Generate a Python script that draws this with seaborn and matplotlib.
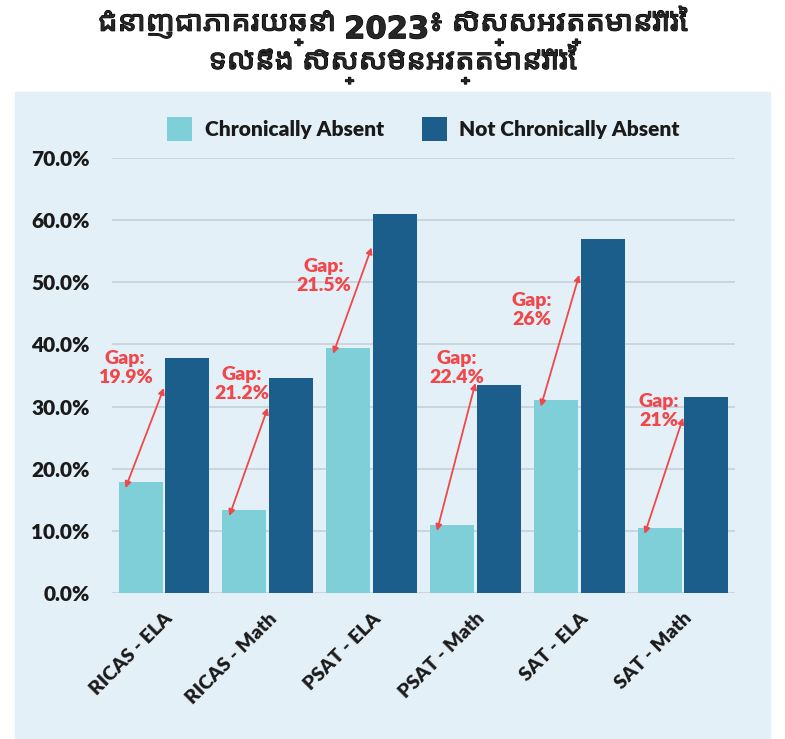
import numpy as np
import pandas as pd
import matplotlib
matplotlib.use("Agg")
import matplotlib.pyplot as plt
import matplotlib.patheffects as pe
from matplotlib import font_manager
from matplotlib.ft2font import FT2Font
from matplotlib.patches import Rectangle
import seaborn as sns

# values
tests = ["RICAS - ELA", "RICAS - Math", "PSAT - ELA", "PSAT - Math", "SAT - ELA", "SAT - Math"]
chronic = [17.9, 13.4, 39.5, 11.0, 31.0, 10.5]
not_chronic = [37.8, 34.6, 61.0, 33.4, 57.0, 31.5]
gap_labels = ["19.9%", "21.2%", "21.5%", "22.4%", "26%", "21%"]
groups = ["Chronically Absent", "Not Chronically Absent"]
title = ("ជំនាញជាភាគរយឆ្នាំ 2023៖ សិស្សអវត្តមានរ៉ាំរ៉ៃ\n"
         "ទល់នឹង សិស្សមិនអវត្តមានរ៉ាំរ៉ៃ")

# annotation placement (hand drawn in the original)
arrow_top = [33.0, 29.8, 55.6, 33.8, 51.2, 28.2]
label_dx = [-0.375, -0.25, -0.46, -0.18, -0.46, -0.23]
label_y = [36.2, 33.6, 51.0, 36.2, 45.6, 29.3]

light = "#7ECFD8"
dark = "#1B5E8C"
red = "#F0474B"
panel = "#E4F0F8"

df = pd.DataFrame({
    "test": tests * 2,
    "value": chronic + not_chronic,
    "group": [groups[0]] * len(tests) + [groups[1]] * len(tests),
})

# find fonts that have Khmer glyphs, prefer Noto
khmer_fonts = []
for f in font_manager.fontManager.ttflist:
    try:
        if ord("ជ") in FT2Font(f.fname).get_charmap():
            khmer_fonts.append(f.name)
    except Exception:
        pass
khmer_font = None
if khmer_fonts:
    khmer_font = khmer_fonts[0]
    for name in khmer_fonts:
        if "Noto" in name:
            khmer_font = name
            break

sns.set_style("white")
plt.rcParams["font.family"] = ["Lato", "DejaVu Sans"]

fig = plt.figure(figsize=(7.85, 7.39), dpi=100)
fig.patches.append(Rectangle((15 / 785, 0), 755 / 785, 647 / 739,
                             transform=fig.transFigure, color=panel, zorder=-5))
ax = fig.add_axes([112 / 785, 1 - 593 / 739, 623 / 785, 435 / 739])
ax.set_zorder(2)
ax.set_facecolor("none")

sns.barplot(data=df, x="test", y="value", hue="group", palette=[light, dark],
            width=0.9, gap=0.06, saturation=1, linewidth=0, ax=ax, zorder=2)

ax.set_ylim(0, 70)
ax.set_xlim(-0.5, len(tests) - 0.5)
ax.set_yticks(np.arange(0, 71, 10))
ax.set_yticklabels([f"{v:.1f}%" for v in np.arange(0, 71, 10)],
                   fontsize=15, fontweight="heavy", color="#1a1a1a")
ax.set_xticks(range(len(tests)))
ax.set_xticklabels(tests, rotation=45, ha="right", rotation_mode="anchor",
                   fontsize=14, fontweight="heavy", color="#1a1a1a")
ax.tick_params(axis="both", length=0)
ax.tick_params(axis="y", pad=16)
ax.tick_params(axis="x", pad=12)
ax.set_xlabel("")
ax.set_ylabel("")
ax.grid(axis="y", color="#C5D0D8", lw=1.2, zorder=0)
ax.set_axisbelow(True)
sns.despine(ax=ax, left=True, bottom=True)

sns.move_legend(ax, "lower center", bbox_to_anchor=(0.5, 0.995), ncol=2,
                frameon=False, title=None, fontsize=15, handlelength=1.2,
                handleheight=1.4, columnspacing=1.8, handletextpad=0.6)
for t in ax.get_legend().get_texts():
    t.set_fontweight("heavy")
    t.set_color("#1a1a1a")

for i in range(len(tests)):
    ax.annotate("", xy=(i + 0.0, arrow_top[i]), xytext=(i - 0.37, chronic[i] - 1.0),
                arrowprops=dict(arrowstyle="<|-|>", color=red, lw=1.3,
                                mutation_scale=9, shrinkA=0, shrinkB=0), zorder=4)
    ax.text(i + label_dx[i], label_y[i], "Gap:\n" + gap_labels[i], color=red,
            fontsize=14, fontweight="heavy", ha="center", va="center",
            linespacing=1.15, zorder=5)

title_family = [khmer_font, "DejaVu Sans"] if khmer_font else ["DejaVu Sans"]
fig.text(0.5, 1 - 6 / 739, title, ha="center", va="top", fontsize=22,
         fontweight="bold", family=title_family, linespacing=0.95,
         path_effects=[pe.withStroke(linewidth=0.8, foreground="black")])

fig.savefig("out.png", dpi=100)
